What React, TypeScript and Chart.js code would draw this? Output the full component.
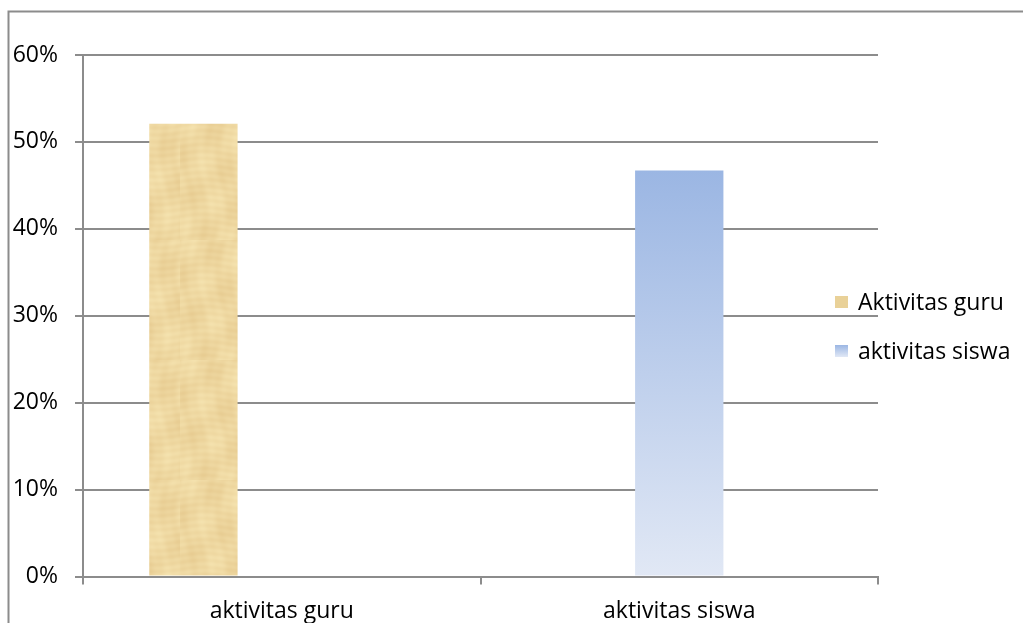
import { useEffect, useRef } from "react";
import { Chart, registerables } from "chart.js";

Chart.register(...registerables);

// Categories on the x axis
const categories = ["aktivitas guru", "aktivitas siswa"];
// Series names shown in the legend
const seriesNames = ["Aktivitas guru", "aktivitas siswa"];
// Series values in percent
const guruValues: (number | null)[] = [52.1, null];
const siswaValues: (number | null)[] = [null, 46.7];
// Third, empty series in the sheet (keeps its slot in each group)
const emptyValues: (number | null)[] = [null, null];
// Y axis ticks in percent
const yTicks = [0, 10, 20, 30, 40, 50, 60];

const FONT = "'Open Sans', 'Noto Sans', sans-serif";
const GRID = "#8c8c8c";

// Soft papyrus-like texture for the teacher bar
function makePapyrus(): CanvasPattern | string {
  const W = 90;
  const H = 120;
  const c = document.createElement("canvas");
  c.width = W;
  c.height = H;
  const g = c.getContext("2d");
  if (!g) return "#edd6a0";
  const img = g.createImageData(W, H);
  for (let y = 0; y < H; y++) {
    for (let x = 0; x < W; x++) {
      const fibreH = Math.sin(y * 0.9 + Math.sin(x * 0.07) * 2) * 0.5;
      const fibreV = Math.sin(x * 0.55 + Math.sin(y * 0.05) * 3) * 0.4;
      const blot = Math.sin(x * 0.13 + y * 0.041) * Math.cos(y * 0.09 - x * 0.031);
      const d = fibreH * 5 + fibreV * 4 + blot * 7;
      const i = (y * W + x) * 4;
      img.data[i] = Math.max(0, Math.min(255, 238 + d * 0.6));
      img.data[i + 1] = Math.max(0, Math.min(255, 215 + d));
      img.data[i + 2] = Math.max(0, Math.min(255, 160 + d * 1.3));
      img.data[i + 3] = 255;
    }
  }
  g.putImageData(img, 0, 0);
  return g.createPattern(c, "repeat") || "#edd6a0";
}

function blueGradient(ctx: CanvasRenderingContext2D, top: number, bottom: number) {
  const gr = ctx.createLinearGradient(0, top, 0, bottom);
  gr.addColorStop(0, "#9bb6e3");
  gr.addColorStop(1, "#e1e8f5");
  return gr;
}

export default function App() {
  const ref = useRef<HTMLCanvasElement | null>(null);

  useEffect(() => {
    const canvas = ref.current;
    if (!canvas) return;
    const papyrus = makePapyrus();

    // Outer frame of the chart object
    const framePlugin = {
      id: "frame",
      beforeDraw(chart: Chart) {
        const ctx = chart.ctx;
        ctx.save();
        ctx.fillStyle = "#ffffff";
        ctx.fillRect(0, 0, chart.width, chart.height);
        ctx.strokeStyle = GRID;
        ctx.lineWidth = 2;
        ctx.beginPath();
        ctx.moveTo(chart.width, 11.5);
        ctx.lineTo(8.5, 11.5);
        ctx.lineTo(8.5, chart.height);
        ctx.stroke();
        ctx.restore();
      },
    };

    // Legend drawn over the right edge of the plot
    const legendPlugin = {
      id: "sideLegend",
      afterDraw(chart: Chart) {
        const ctx = chart.ctx;
        ctx.save();
        ctx.font = `23px ${FONT}`;
        ctx.textBaseline = "middle";
        ctx.textAlign = "left";
        const rows = [302, 351];
        seriesNames.forEach((name, i) => {
          const y = rows[i];
          if (i === 0) {
            ctx.fillStyle = "#e9d198";
          } else {
            ctx.fillStyle = blueGradient(ctx, y - 6, y + 6);
          }
          ctx.fillRect(835, y - 6, 13, 12);
          ctx.fillStyle = "#000000";
          ctx.fillText(name, 858, y + 1);
        });
        ctx.restore();
      },
    };

    const chart = new Chart(canvas, {
      type: "bar",
      data: {
        labels: categories,
        datasets: [
          {
            label: seriesNames[0],
            data: guruValues,
            backgroundColor: papyrus as any,
            borderWidth: 0,
          },
          {
            label: seriesNames[1],
            data: siswaValues,
            backgroundColor: (c: any) => {
              const ch = c.chart;
              const area = ch.chartArea;
              const v = c.raw;
              if (!area || v == null) return "#9bb6e3";
              const top = ch.scales.y.getPixelForValue(v);
              return blueGradient(ch.ctx, top, area.bottom);
            },
            borderWidth: 0,
          },
          {
            label: "",
            data: emptyValues,
            backgroundColor: "transparent",
            borderWidth: 0,
          },
        ],
      },
      options: {
        responsive: false,
        animation: false,
        events: [],
        devicePixelRatio: 1,
        layout: { padding: { top: 55, left: 0, right: 145, bottom: 0 } },
        datasets: {
          bar: { categoryPercentage: 3 / 4.5, barPercentage: 1 },
        },
        plugins: {
          legend: { display: false },
          tooltip: { enabled: false },
          title: { display: false },
        },
        scales: {
          x: {
            afterFit: (s: any) => {
              s.height = 46.5;
            },
            grid: {
              display: true,
              drawOnChartArea: false,
              drawTicks: true,
              tickLength: 8,
              color: GRID,
              lineWidth: 2,
              offset: true,
            },
            border: { display: true, color: GRID, width: 2 },
            ticks: {
              color: "#000000",
              font: { family: FONT, size: 23 },
              padding: 13,
              maxRotation: 0,
            },
          },
          y: {
            min: yTicks[0],
            max: yTicks[yTicks.length - 1],
            afterFit: (s: any) => {
              s.width = 83;
            },
            afterBuildTicks: (s: any) => {
              s.ticks = yTicks.map((v) => ({ value: v }));
            },
            grid: {
              color: GRID,
              lineWidth: 2,
              drawTicks: true,
              tickLength: 8,
            },
            border: { display: true, color: GRID, width: 2 },
            ticks: {
              color: "#000000",
              font: { family: FONT, size: 23 },
              padding: 17,
              callback: (v: any) => `${v}%`,
            },
          },
        },
      },
      plugins: [framePlugin, legendPlugin],
    });

    return () => chart.destroy();
  }, []);

  return (
    <div style={{ position: "absolute", left: 0, top: 0, width: 1023, height: 623 }}>
      <canvas ref={ref} width={1023} height={623} />
    </div>
  );
}
